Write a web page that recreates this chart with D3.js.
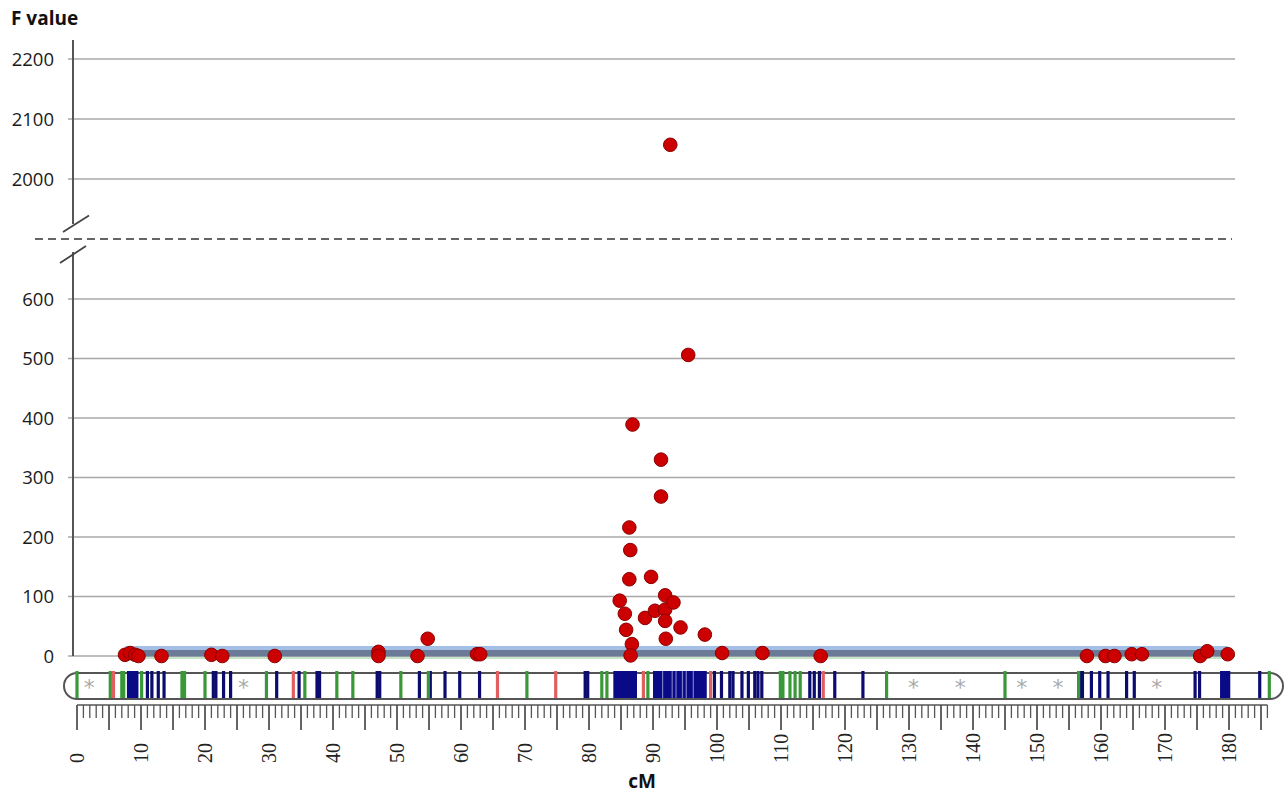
<!DOCTYPE html>
<html>
<head>
<meta charset="utf-8">
<script src="https://cdn.jsdelivr.net/npm/d3@7/dist/d3.min.js"></script>
<style>
  html, body { margin: 0; padding: 0; background: #fff; }
  svg { display: block; }
</style>
</head>
<body>
<svg id="chart" width="1286" height="796"></svg>
<script>
// ---------------- DATA ----------------
const lowTicks = [0, 100, 200, 300, 400, 500, 600];
const highTicks = [2000, 2100, 2200];
const cmTicks = [0, 10, 20, 30, 40, 50, 60, 70, 80, 90, 100, 110, 120, 130, 140, 150, 160, 170, 180];

// QTL scan points: position (cM) and F value
const pointCM = [7.5, 8.3, 9.1, 9.6, 13.2, 21.0, 22.7, 30.9, 47.1, 47.1, 53.2, 54.8, 62.5, 63.0,
  84.8, 85.6, 85.8, 86.3, 86.45, 86.3, 86.8, 86.7, 86.5, 88.75, 89.7, 90.3, 91.25, 91.25,
  91.9, 91.9, 91.9, 92.0, 93.2, 94.3, 95.5, 92.7, 98.1, 100.8, 107.1, 116.2,
  157.8, 160.7, 162.1, 164.8, 166.4, 175.5, 176.6, 179.8];
const pointF = [2, 5, 2, 0, 0, 2, 0, 0, 7, 0, 0, 29, 3, 3,
  93, 71, 44, 216, 178, 129, 389, 20, 1, 64, 133, 76, 330, 268,
  102, 78, 59, 29, 90, 48, 506, 2057, 36, 5, 5, 0,
  0, 0, 0, 3, 3, 0, 8, 3];

// Linkage map markers (cM)
const greenMarkers = [0, 5.2, 7.0, 7.3, 10.1, 16.4, 16.8, 20.0, 29.6, 35.6, 40.6, 43.1, 50.6, 54.9, 70.3,
  82.0, 82.8, 89.2, 109.9, 110.3, 111.4, 112.2, 113.0, 126.5, 145.0, 156.5, 186.3];
const redMarkers = [5.7, 33.8, 65.7, 74.8, 88.5, 99.0, 116.6];
const navyMarkers = [11.0, 11.7, 12.7, 13.6, 21.3, 21.7, 22.9, 24.0, 31.2, 34.7, 37.5, 37.9, 46.9, 47.3,
  53.5, 55.2, 57.5, 59.8, 62.9, 79.4, 79.8, 99.6, 100.7, 102.0, 102.5, 103.9, 104.9, 105.9, 106.4, 107.0,
  114.5, 115.2, 116.0, 118.4, 122.8, 156.7, 157.1, 158.5, 159.8, 161.1, 164.0, 165.2, 174.7, 175.4, 184.8];
const navyBlockStart = [7.8, 83.8, 90.0, 178.6];
const navyBlockEnd = [9.6, 87.5, 98.4, 180.2];
const lightGaps = [91.5, 93.0, 93.6, 94.6, 95.2, 96.3];
const asteriskMarkers = [1.9, 26.0, 130.7, 138.0, 147.6, 153.3, 168.7];
const bandStart = 7.5, bandEnd = 179.8;
const rulerMax = 186;

// ---------------- SCALES ----------------
const svg = d3.select("#chart");
const x = d3.scaleLinear().domain([0, 180]).range([77, 1229]);
const yLow = d3.scaleLinear().domain([0, 600]).range([656, 299]);
const yHigh = d3.scaleLinear().domain([2000, 2200]).range([179, 59]);
const y = v => (v >= 1000 ? yHigh(v) : yLow(v));

const axisX = 73, gridEnd = 1235;
const numFont = "'Open Sans', 'Liberation Sans', Arial, sans-serif";

// ---------------- GRID ----------------
const gridVals = lowTicks.concat(highTicks);
svg.append("g").selectAll("line").data(gridVals).join("line")
  .attr("x1", axisX - 5).attr("x2", gridEnd)
  .attr("y1", d => y(d)).attr("y2", d => y(d))
  .attr("stroke", "#a8a8a8").attr("stroke-width", 1.6);

svg.append("g").selectAll("text").data(gridVals).join("text")
  .attr("x", 54).attr("y", d => y(d)).attr("dy", "0.36em")
  .attr("text-anchor", "end")
  .style("font-family", numFont).style("font-size", "18.5px").attr("fill", "#1a1a1a")
  .text(d => d);

// y axis lines with break
svg.append("line").attr("x1", axisX).attr("x2", axisX).attr("y1", 40).attr("y2", 224)
  .attr("stroke", "#555").attr("stroke-width", 2);
svg.append("line").attr("x1", axisX).attr("x2", axisX).attr("y1", 252).attr("y2", y(0))
  .attr("stroke", "#555").attr("stroke-width", 2);
svg.append("line").attr("x1", 63).attr("y1", 232).attr("x2", 89).attr("y2", 215.5)
  .attr("stroke", "#444").attr("stroke-width", 1.8);
svg.append("line").attr("x1", 60).attr("y1", 263).attr("x2", 86).attr("y2", 246)
  .attr("stroke", "#444").attr("stroke-width", 1.8);
svg.append("line").attr("x1", 35).attr("x2", 1232).attr("y1", 239).attr("y2", 239)
  .attr("stroke", "#333").attr("stroke-width", 1.6).attr("stroke-dasharray", "8,5");

// axis titles
svg.append("text").attr("x", 11).attr("y", 25)
  .style("font-family", numFont).style("font-weight", "bold").style("font-size", "19px")
  .attr("fill", "#111").text("F value");
svg.append("text").attr("x", 642).attr("y", 788).attr("text-anchor", "middle")
  .style("font-family", numFont).style("font-weight", "bold").style("font-size", "19px")
  .attr("fill", "#111").text("cM");

// ---------------- BAND near zero ----------------
const band = svg.append("g");
band.append("rect").attr("x", x(bandStart)).attr("width", x(bandEnd) - x(bandStart))
  .attr("y", 646).attr("height", 4.5).attr("fill", "#a3bfe6");
band.append("rect").attr("x", x(bandStart)).attr("width", x(bandEnd) - x(bandStart))
  .attr("y", 650).attr("height", 6.5).attr("fill", "#6a7a97");
band.append("line").attr("x1", x(bandStart)).attr("x2", x(bandEnd))
  .attr("y1", 658).attr("y2", 658).attr("stroke", "#8cc98c").attr("stroke-width", 1);

// ---------------- CHROMOSOME BAR ----------------
const barTop = 673, barBot = 699;
const chrom = svg.append("g");
chrom.append("rect").attr("x", 64).attr("y", barTop).attr("width", 1219).attr("height", barBot - barTop)
  .attr("rx", 13).attr("ry", 13).attr("fill", "#fff").attr("stroke", "#555").attr("stroke-width", 2);

chrom.selectAll("rect.blk").data(navyBlockStart).join("rect").attr("class", "blk")
  .attr("x", (d, i) => x(d)).attr("width", (d, i) => x(navyBlockEnd[i]) - x(d))
  .attr("y", barTop - 2).attr("height", barBot - barTop + 1).attr("fill", "#0a0a86");

function markerLines(data, color, w) {
  chrom.append("g").selectAll("line").data(data).join("line")
    .attr("x1", d => x(d)).attr("x2", d => x(d))
    .attr("y1", barTop - 2).attr("y2", barBot - 1)
    .attr("stroke", color).attr("stroke-width", w);
}
markerLines(lightGaps, "#7a7acb", 1.2);
markerLines(navyMarkers, "#0c0c70", 3.2);
markerLines(greenMarkers, "#379937", 3.2);
markerLines(redMarkers, "#e25f5f", 3.2);

chrom.append("g").selectAll("text").data(asteriskMarkers).join("text")
  .attr("x", d => x(d)).attr("y", 695).attr("text-anchor", "middle")
  .style("font-family", "'DejaVu Sans', sans-serif").style("font-size", "22px")
  .attr("fill", "#aaa").text("*");

// ---------------- RULER ----------------
const ruler = svg.append("g");
ruler.append("line").attr("x1", x(0)).attr("x2", x(rulerMax)).attr("y1", 705).attr("y2", 705)
  .attr("stroke", "#555").attr("stroke-width", 1.5);
ruler.selectAll("line.t").data(d3.range(0, rulerMax + 1)).join("line").attr("class", "t")
  .attr("x1", d => x(d)).attr("x2", d => x(d))
  .attr("y1", 705).attr("y2", d => (d % 5 === 0 ? 730 : 718))
  .attr("stroke", "#555").attr("stroke-width", d => (d % 5 === 0 ? 1.8 : 1.3));
ruler.selectAll("text").data(cmTicks).join("text")
  .attr("transform", d => `translate(${x(d)},763) rotate(-90)`)
  .attr("dy", "0.35em").attr("text-anchor", "start")
  .style("font-family", "'Liberation Serif', 'DejaVu Serif', 'Times New Roman', serif").style("font-size", "20px")
  .attr("fill", "#222").text(d => d);

// ---------------- POINTS ----------------
svg.append("g").selectAll("circle").data(pointCM).join("circle")
  .attr("cx", d => x(d)).attr("cy", (d, i) => y(pointF[i]))
  .attr("r", 6.8).attr("fill", "#cc0000").attr("stroke", "#8a0000").attr("stroke-width", 1);
</script>
</body>
</html>
